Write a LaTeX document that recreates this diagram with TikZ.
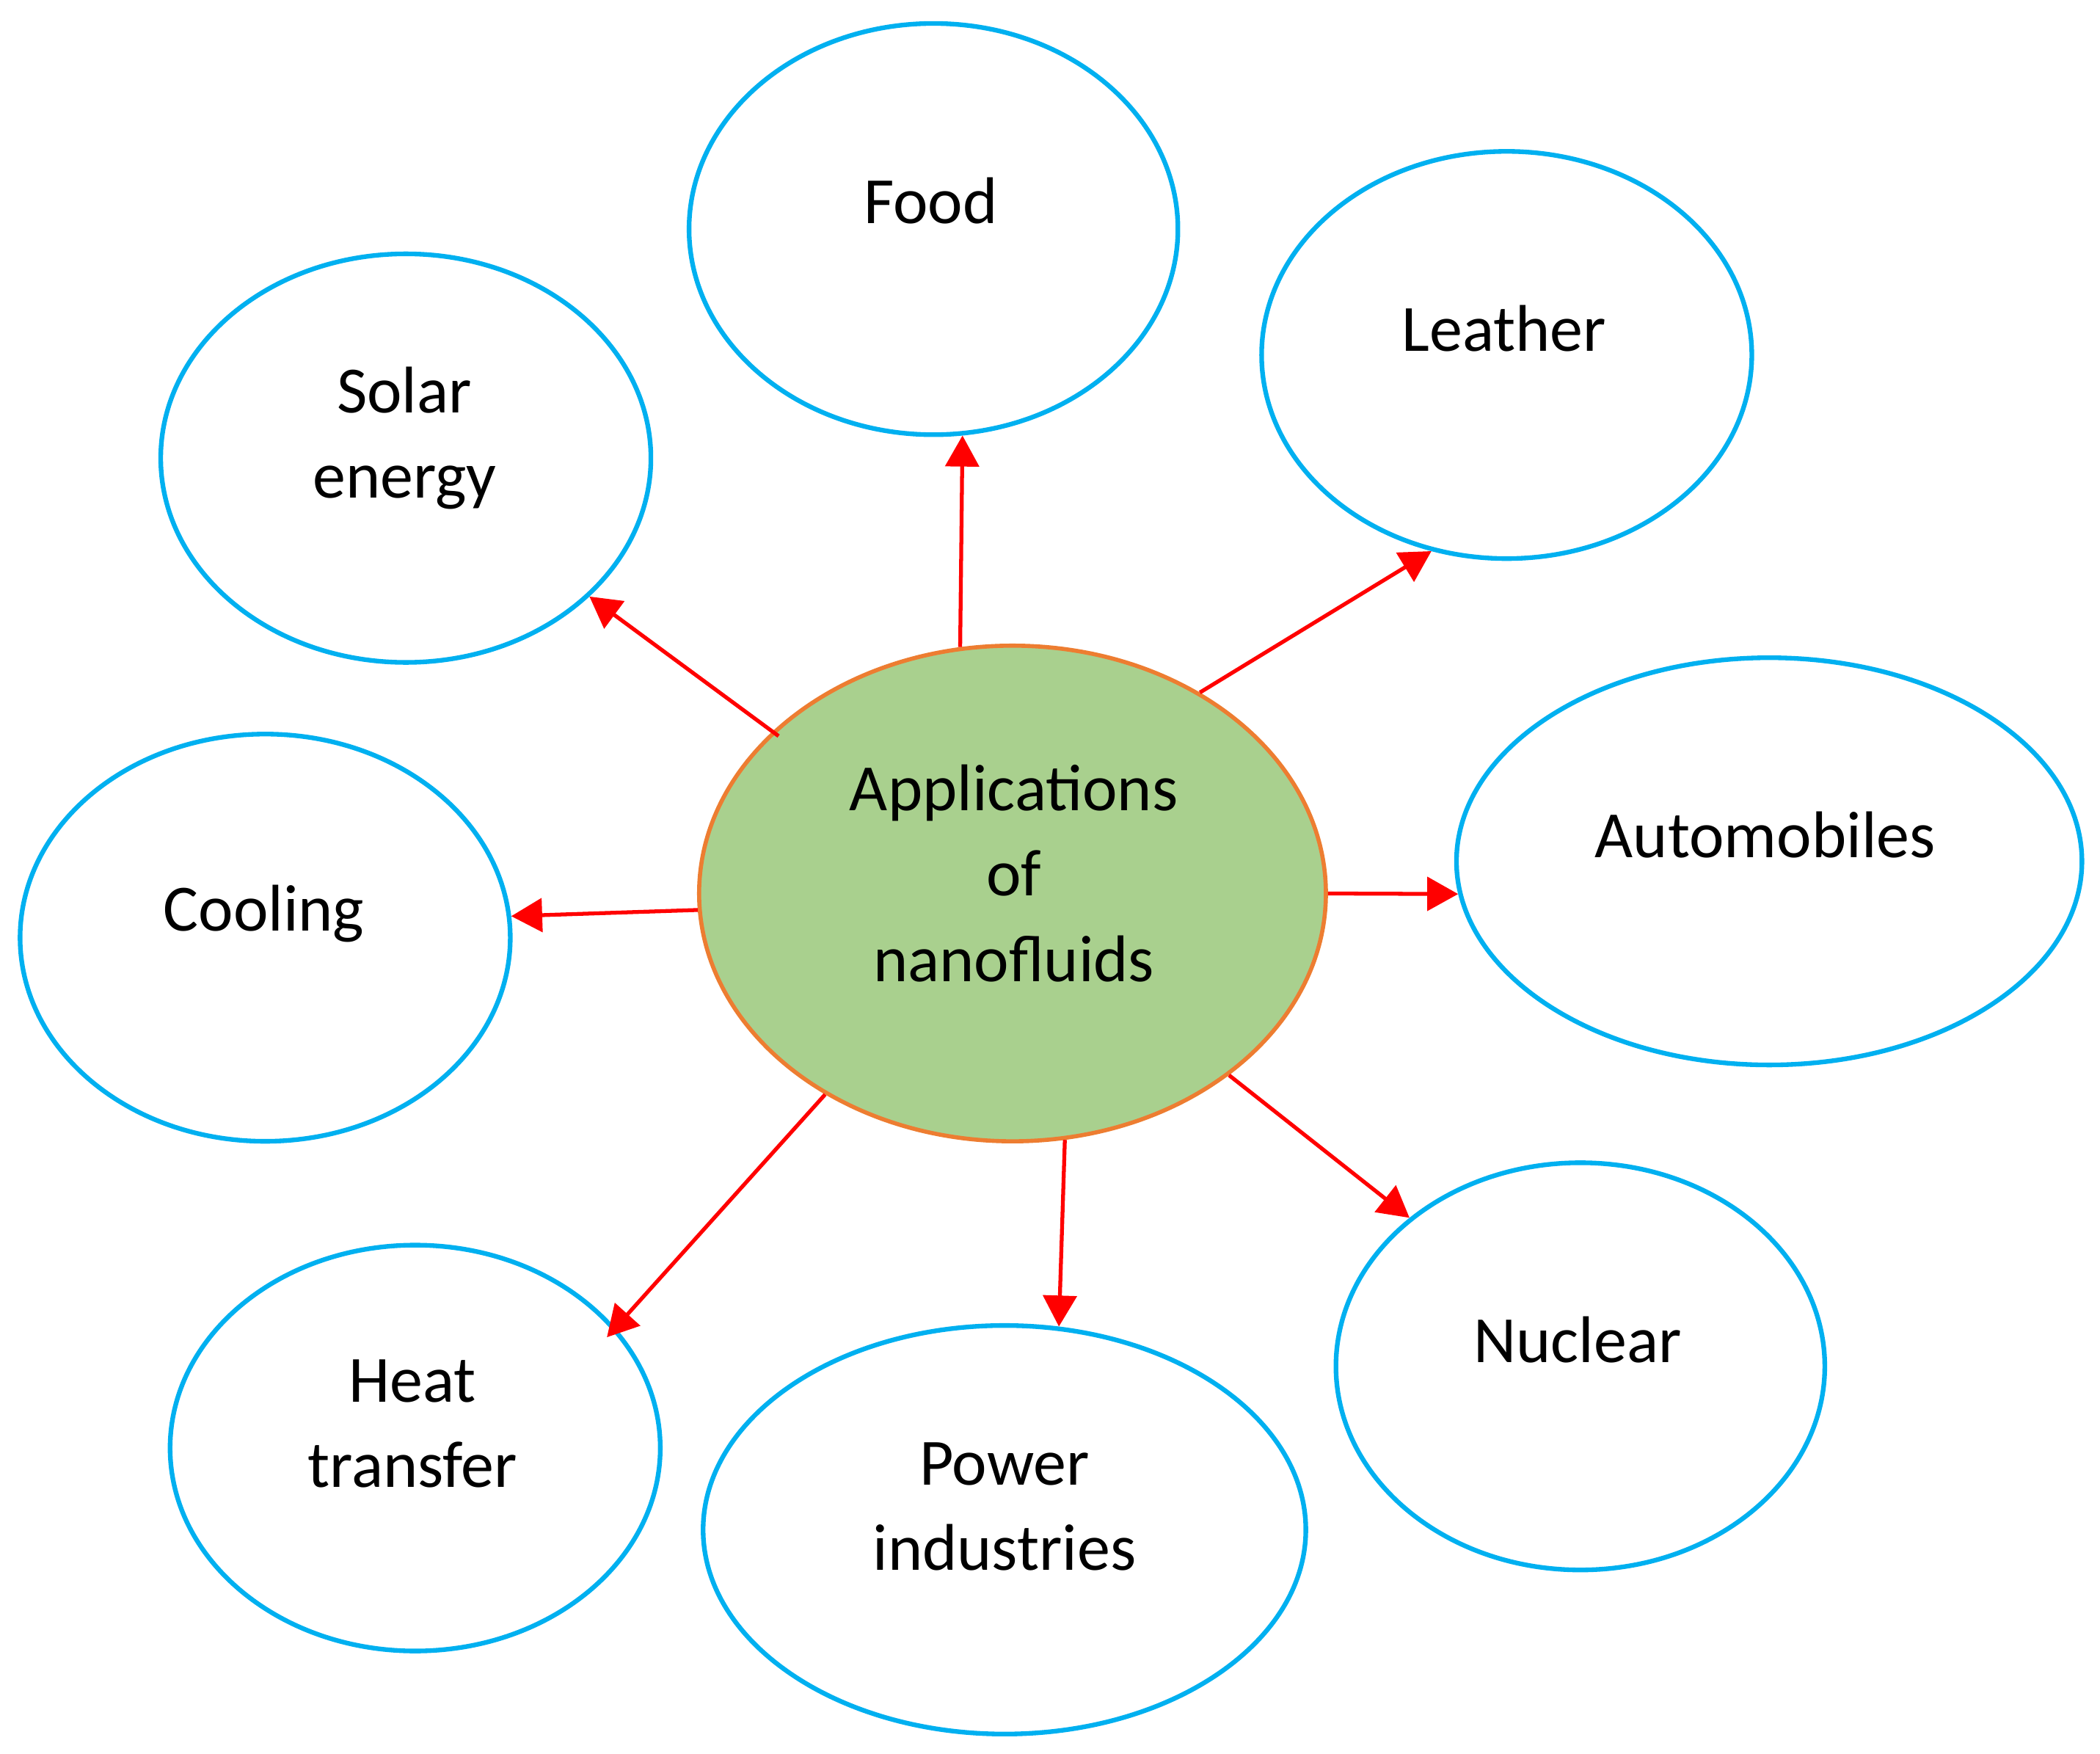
\documentclass[tikz,border=0pt]{standalone}
\usepackage{fontspec}
\setmainfont{Carlito}
\usetikzlibrary{shapes.geometric,arrows.meta}
\definecolor{skyblue}{HTML}{00B0F0}
\definecolor{hubfill}{HTML}{A9D08E}
\definecolor{hubedge}{HTML}{ED7D31}
\newcommand\pxu{0.01825cm}
\begin{document}
\begin{tikzpicture}[x=0.01825cm,y=-0.01825cm,
  app/.style={ellipse, draw=skyblue, line width=1.8pt, inner sep=0pt},
  hub/.style={ellipse, draw=hubedge, fill=hubfill, line width=1.6pt, inner sep=0pt},
  lbl/.style={align=center, font=\fontsize{25.6}{33}\selectfont, inner sep=0pt},
  link/.style={draw=red, line width=1.5pt, -{Triangle[length=12pt,width=13pt]}}]
\useasboundingbox (0,0) rectangle (1568,1309);
\fill[white] (0,0) rectangle (1568,1309);

\node[hub, minimum width=468*\pxu, minimum height=370*\pxu] (hub) at (756,667) {};
\node[app, minimum width=365*\pxu, minimum height=307*\pxu] (food) at (697,171) {};
\node[app, minimum width=366*\pxu, minimum height=304*\pxu] (leather) at (1125,265) {};
\node[app, minimum width=366*\pxu, minimum height=305*\pxu] (solar) at (303,342) {};
\node[app, minimum width=366*\pxu, minimum height=304*\pxu] (cooling) at (198,700) {};
\node[app, minimum width=467*\pxu, minimum height=304*\pxu] (auto) at (1321,643) {};
\node[app, minimum width=365*\pxu, minimum height=304*\pxu] (nuclear) at (1180,1020) {};
\node[app, minimum width=450*\pxu, minimum height=305*\pxu] (power) at (750,1142) {};
\node[app, minimum width=366*\pxu, minimum height=303*\pxu] (heat) at (310,1081) {};

\node[lbl] (hubt) at (757,652) {Applications\\of\\nanofluids};
\node[lbl] (foodt) at (695,150) {Food};
\node[lbl] (leathert) at (1123,245) {Leather};
\node[lbl] (solart) at (302,327) {Solar\\energy};
\node[lbl] (coolingt) at (197,682) {Cooling};
\node[lbl] (autot) at (1318,623) {Automobiles};
\node[lbl] (nucleart) at (1178,1000) {Nuclear};
\node[lbl] (powert) at (750,1125) {Power\\industries};
\node[lbl] (heatt) at (308,1063) {Heat\\transfer};

\draw[link] (hub.102.6) -- (food.-82.6);
\draw[link] (hub.47.9) -- (leather.-111.4);
\draw[link, shorten <=-3pt] (hub.146.1) -- (solar.-37.5);
\draw[link] (hub.183.2) -- (cooling.5.3);
\draw[link] (hub.-0.5) -- (auto.186.3);
\draw[link] (hub.-40) -- (nuclear.139.3);
\draw[link] (hub.-78) -- (power.75);
\draw[link, shorten >=-5pt] (hub.-133.7) -- (heat.31.3);
\end{tikzpicture}
\end{document}
